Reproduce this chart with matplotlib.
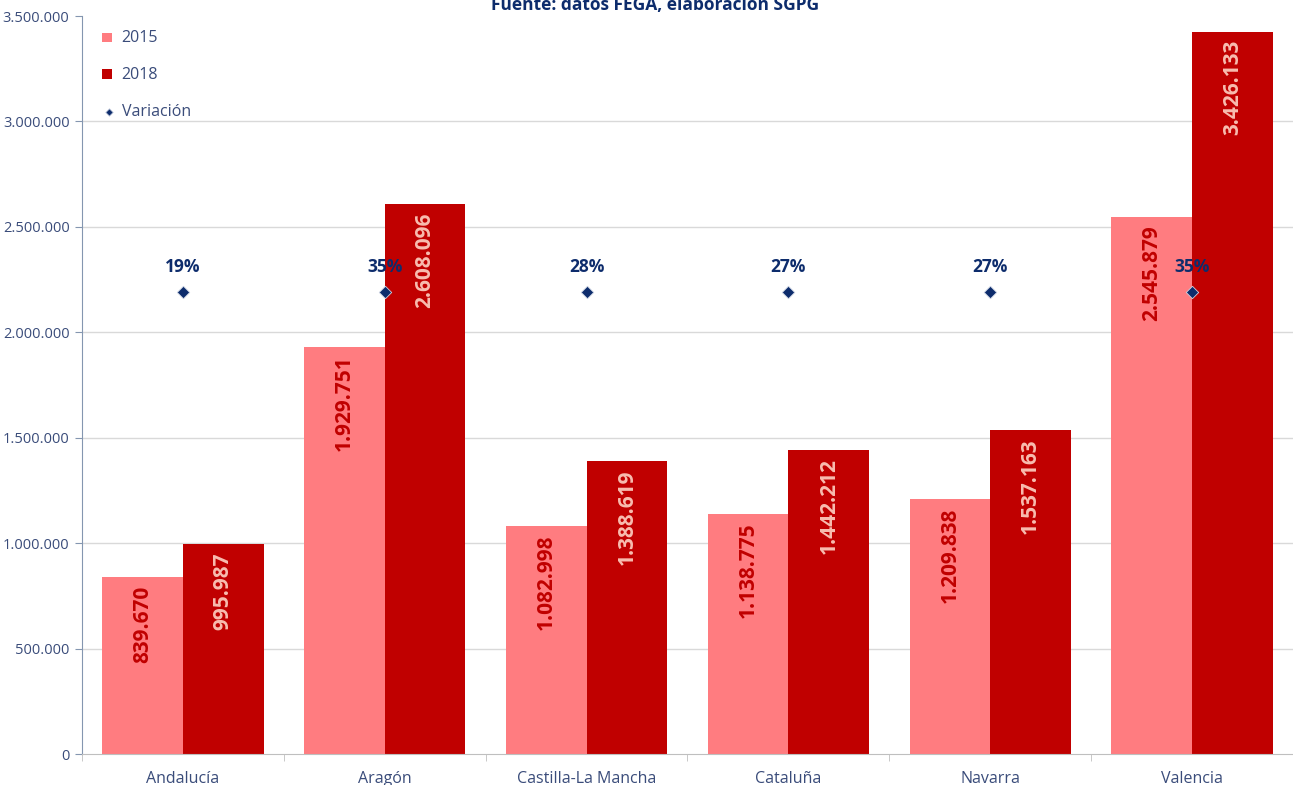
import matplotlib
matplotlib.use("Agg")
import matplotlib.pyplot as plt
import numpy as np
from matplotlib.ticker import FuncFormatter, FixedLocator

plt.rcParams['font.family'] = ['Open Sans', 'DejaVu Sans']

categories = ["Andalucía", "Aragón", "Castilla-La Mancha", "Cataluña", "Navarra", "Valencia"]
v2015 = [839670, 1929751, 1082998, 1138775, 1209838, 2545879]
v2018 = [995987, 2608096, 1388619, 1442212, 1537163, 3426133]
variacion = ["19%", "35%", "28%", "27%", "27%", "35%"]
marker_level = 2190000
title = "Fuente: datos FEGA, elaboración SGPG"

c2015 = "#FF7C80"
c2018 = "#C00000"
navy = "#0D2C6C"
tickc = "#3A4C7A"

fig = plt.figure(figsize=(12.93, 7.85), dpi=100)
ax = fig.add_axes([82/1293, 31/785, 1 - 82/1293, (754-16)/785])

x = np.arange(len(categories))
w = 0.4
b1 = ax.bar(x - w/2, v2015, w, color=c2015, label="2015", zorder=2)
b2 = ax.bar(x + w/2, v2018, w, color=c2018, label="2018", zorder=2)

def fmt(v):
    return f"{v:,.0f}".replace(",", ".")

for rect, v in zip(b1, v2015):
    ax.text(rect.get_x() + rect.get_width()/2, v - 40000, fmt(v), rotation=90,
            ha="center", va="top", color="#C00000", fontsize=15, fontweight="bold", zorder=3)
for rect, v in zip(b2, v2018):
    ax.text(rect.get_x() + rect.get_width()/2, v - 40000, fmt(v), rotation=90,
            ha="center", va="top", color="#F8BDB0", fontsize=15, fontweight="bold", zorder=3)

sc = ax.scatter(x, [marker_level]*len(x), marker="D", s=40, color=navy, edgecolor="#C8D0E0",
                linewidth=0.6, zorder=4, label="Variación")
for xi, t in zip(x, variacion):
    ax.text(xi, marker_level + 75000, t, ha="center", va="bottom", color=navy,
            fontsize=12.5, fontweight="bold", zorder=5)

ax.set_xlim(-0.5, len(categories) - 0.5)
ax.set_ylim(0, 3500000)
yticks = np.arange(0, 3500001, 500000)
ax.yaxis.set_major_locator(FixedLocator(yticks))
ax.yaxis.set_major_formatter(FuncFormatter(lambda v, p: fmt(v)))
ax.hlines(yticks[1:-1], -0.5, len(categories) - 0.5, color="#D9D9D9", linewidth=1, zorder=0)

ax.set_xticks(x)
ax.set_xticklabels(categories)
ax.set_xticks(np.arange(-0.5, len(categories), 1), minor=True)
ax.tick_params(axis="x", which="major", length=0, pad=12, labelsize=11.5, labelcolor=tickc)
ax.tick_params(axis="x", which="minor", length=5, color="#BFBFBF")
ax.tick_params(axis="y", length=5, color="#8496B0", labelsize=10.5, labelcolor=tickc, pad=4)

for s in ["top", "right"]:
    ax.spines[s].set_visible(False)
ax.spines["left"].set_color("#8496B0")
ax.spines["bottom"].set_color("#BFBFBF")

leg = ax.legend([b1, b2, sc], ["2015", "2018", "Variación"], loc="upper left",
                bbox_to_anchor=(0.005, 1.0), frameon=False,
                fontsize=11.5, labelspacing=1.3, handlelength=0.8, handletextpad=0.4,
                markerscale=0.6)
for t in leg.get_texts():
    t.set_color(tickc)
for h in leg.legend_handles[:2]:
    h.set_height(7)
    h.set_width(7)

fig.text(0.507, 1.0 - 10/785, title, ha="center", va="baseline", fontsize=12.5,
         fontweight="bold", color=navy)

fig.savefig("out.png", dpi=100)
